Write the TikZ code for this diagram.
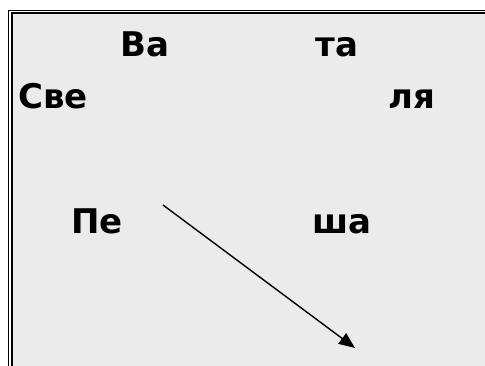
\documentclass[tikz,border=0pt]{standalone}
\usepackage{fontspec}
\newfontfamily\syllfont{DejaVu Sans}
\usetikzlibrary{arrows.meta}
\definecolor{panelgray}{RGB}{235,235,235}

\begin{document}
\begin{tikzpicture}[x=1pt,y=-1pt,>={Triangle[length=16pt,width=13pt]},syllable/.style={anchor=base,inner sep=0pt,font=\syllfont\bfseries\fontsize{34}{36}\selectfont}]
  \useasboundingbox (0,0) rectangle (485,365);
  \clip (0,0) rectangle (485,365);
  \fill[panelgray] (11.5,12.5) rectangle (490,370);
  \draw[line width=1.4pt] (8.5,370) |- (490,10.5);
  \draw[line width=1.4pt] (12,370) |- (490,13);
  \node[syllable] (va) at (145,56) {Ва};
  \node[syllable] (ta) at (337,56) {та};
  \node[syllable] (sve) at (53,108) {Све};
  \node[syllable] (lya) at (412,108) {ля};
  \node[syllable] (pe) at (97,233) {Пе};
  \node[syllable] (sha) at (342,233) {ша};
  \coordinate (start) at (163,205);
  \coordinate (stop) at (355,348);
  \draw[->,line width=1.4pt] (start) -- (stop);
\end{tikzpicture}
\end{document}
